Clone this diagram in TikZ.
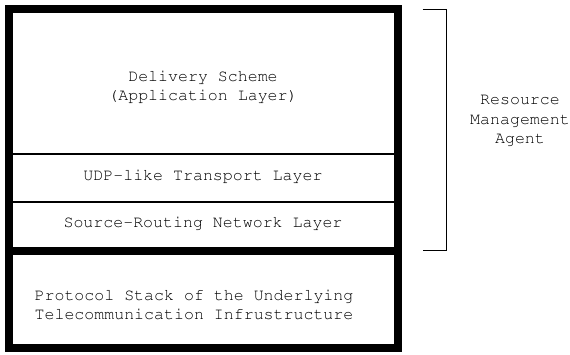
\documentclass[tikz,border=0pt]{standalone}
\usepackage[T1]{fontenc}
\usetikzlibrary{positioning}

\begin{document}
\begin{tikzpicture}[x=1pt,y=-1pt,
  layertext/.style={font=\fontencoding{T1}\fontfamily{pcr}\fontsize{16.6}{19.6}\selectfont,align=center,inner sep=0pt},
  frame/.style={line width=7.7pt},
  divider/.style={line width=1.3pt}]
\useasboundingbox (0,0) rectangle (570,355);
% the two stacks
\draw[frame] (8.85,8.85) rectangle (397.85,251);
\draw[frame] (8.85,251) rectangle (397.85,347.85);
\draw[divider] (8.85,154) -- (397.85,154);
\draw[divider] (8.85,202) -- (397.85,202);
% layer names
\node[layertext] (app) at (203,87) {Delivery Scheme\\(Application Layer)};
\node[layertext] (udp) at (203,176) {UDP-like Transport Layer};
\node[layertext] (net) at (203,223) {Source-Routing Network Layer};
\node[layertext,align=left] (infra) at (194,305) {Protocol Stack of the Underlying\\Telecommunication Infrustructure};
% bracket
\coordinate (brtop) at (422.5,9.5);
\coordinate (brbot) at (422.5,250.5);
\draw[divider] (brtop) -- ++(24,0) |- (brbot);
\node[layertext] (agent) at (520,121) {Resource\\Management\\Agent};
\end{tikzpicture}
\end{document}
